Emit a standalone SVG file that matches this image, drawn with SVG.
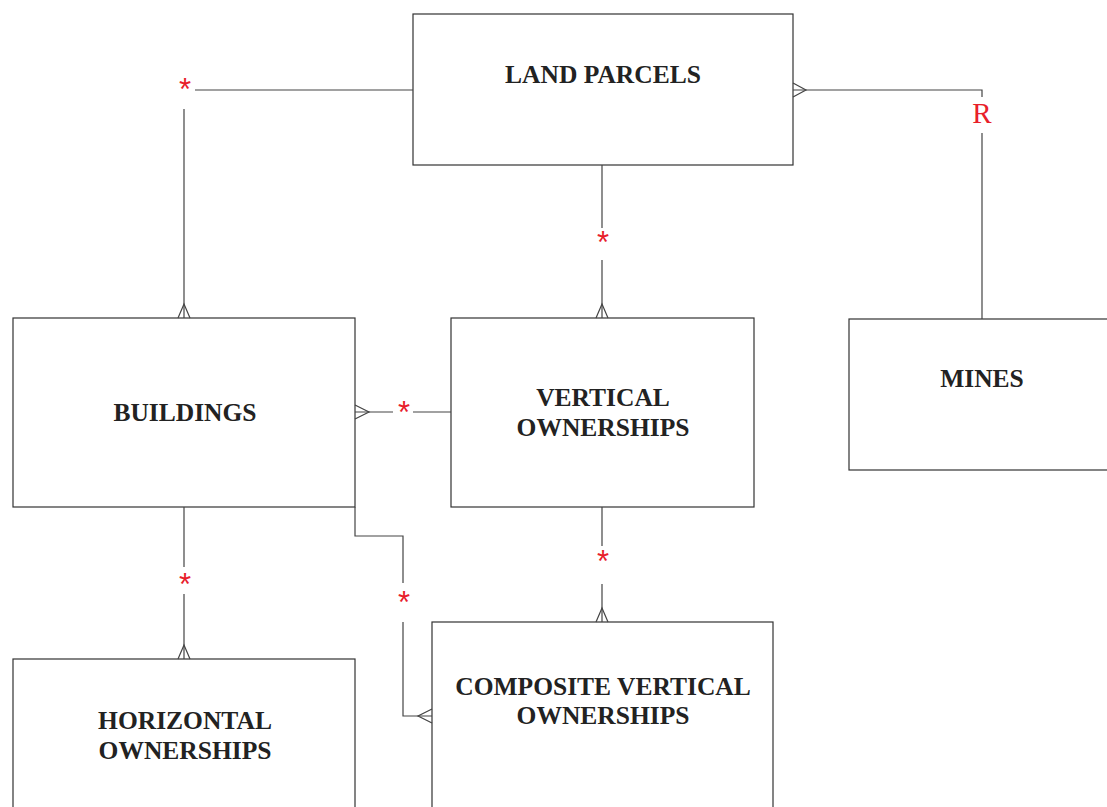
<svg xmlns="http://www.w3.org/2000/svg" width="1107" height="807" viewBox="0 0 1107 807">
<style>
.box{fill:#fff;stroke:#333;stroke-width:1.2}
.t{font-family:"Liberation Serif","Times New Roman",serif;font-weight:bold;font-size:25.5px;fill:#222;text-anchor:middle}
.ln{fill:none;stroke:#444;stroke-width:1.2}
.ast{font-family:"Liberation Sans",Arial,sans-serif;font-size:31px;fill:#e8202a;text-anchor:middle}
.r{font-family:"Liberation Serif","Times New Roman",serif;font-size:29px;fill:#e8202a;text-anchor:middle}
</style>
<rect width="1107" height="807" fill="#fff"/>
<g id="land-parcels"><rect class="box" x="413" y="14" width="380" height="151"/><text class="t" x="603" y="83">LAND PARCELS</text></g>
<g id="buildings"><rect class="box" x="13" y="318" width="342" height="189"/><text class="t" x="185" y="421">BUILDINGS</text></g>
<g id="vertical-ownerships"><rect class="box" x="451" y="318" width="303" height="189"/><text class="t" x="603" y="406">VERTICAL</text><text class="t" x="603" y="436">OWNERSHIPS</text></g>
<g id="mines"><rect class="box" x="849" y="319" width="270" height="151"/><text class="t" x="982" y="387">MINES</text></g>
<g id="horizontal-ownerships"><rect class="box" x="13" y="659" width="342" height="160"/><text class="t" x="185" y="729">HORIZONTAL</text><text class="t" x="185" y="759">OWNERSHIPS</text></g>
<g id="composite-vertical-ownerships"><rect class="box" x="432" y="622" width="341" height="197"/><text class="t" x="603" y="695">COMPOSITE VERTICAL</text><text class="t" x="603" y="724">OWNERSHIPS</text></g>
<g id="connectors">
<polyline class="ln" points="413,90 195,90"/>
<polyline class="ln" points="184,109 184,318"/>
<path class="ln" d="M178,318 L184,304 L190,318"/>
<text class="ast" x="185" y="100">*</text>

<polyline class="ln" points="793,90 982,90 982,97"/>
<path class="ln" d="M793,83 L806,90 L793,97"/>
<polyline class="ln" points="982,133 982,319"/>
<text class="r" x="982" y="123">R</text>

<polyline class="ln" points="602,165 602,228"/>
<polyline class="ln" points="602,260 602,318"/>
<path class="ln" d="M596,318 L602,304 L608,318"/>
<text class="ast" x="603" y="253">*</text>

<polyline class="ln" points="355,412 393,412"/>
<polyline class="ln" points="413,412 451,412"/>
<path class="ln" d="M355,405 L369,412 L355,419"/>
<text class="ast" x="404" y="423">*</text>

<polyline class="ln" points="184,507 184,567"/>
<polyline class="ln" points="184,594 184,659"/>
<path class="ln" d="M178,659 L184,645 L190,659"/>
<text class="ast" x="185" y="595">*</text>

<polyline class="ln" points="355,507 355,536 403,536 403,583"/>
<polyline class="ln" points="403,622 403,716 432,716"/>
<path class="ln" d="M432,709 L418,716 L432,723"/>
<text class="ast" x="404" y="613">*</text>

<polyline class="ln" points="602,507 602,546"/>
<polyline class="ln" points="602,584 602,622"/>
<path class="ln" d="M596,622 L602,608 L608,622"/>
<text class="ast" x="603" y="572">*</text>
</g>
</svg>
